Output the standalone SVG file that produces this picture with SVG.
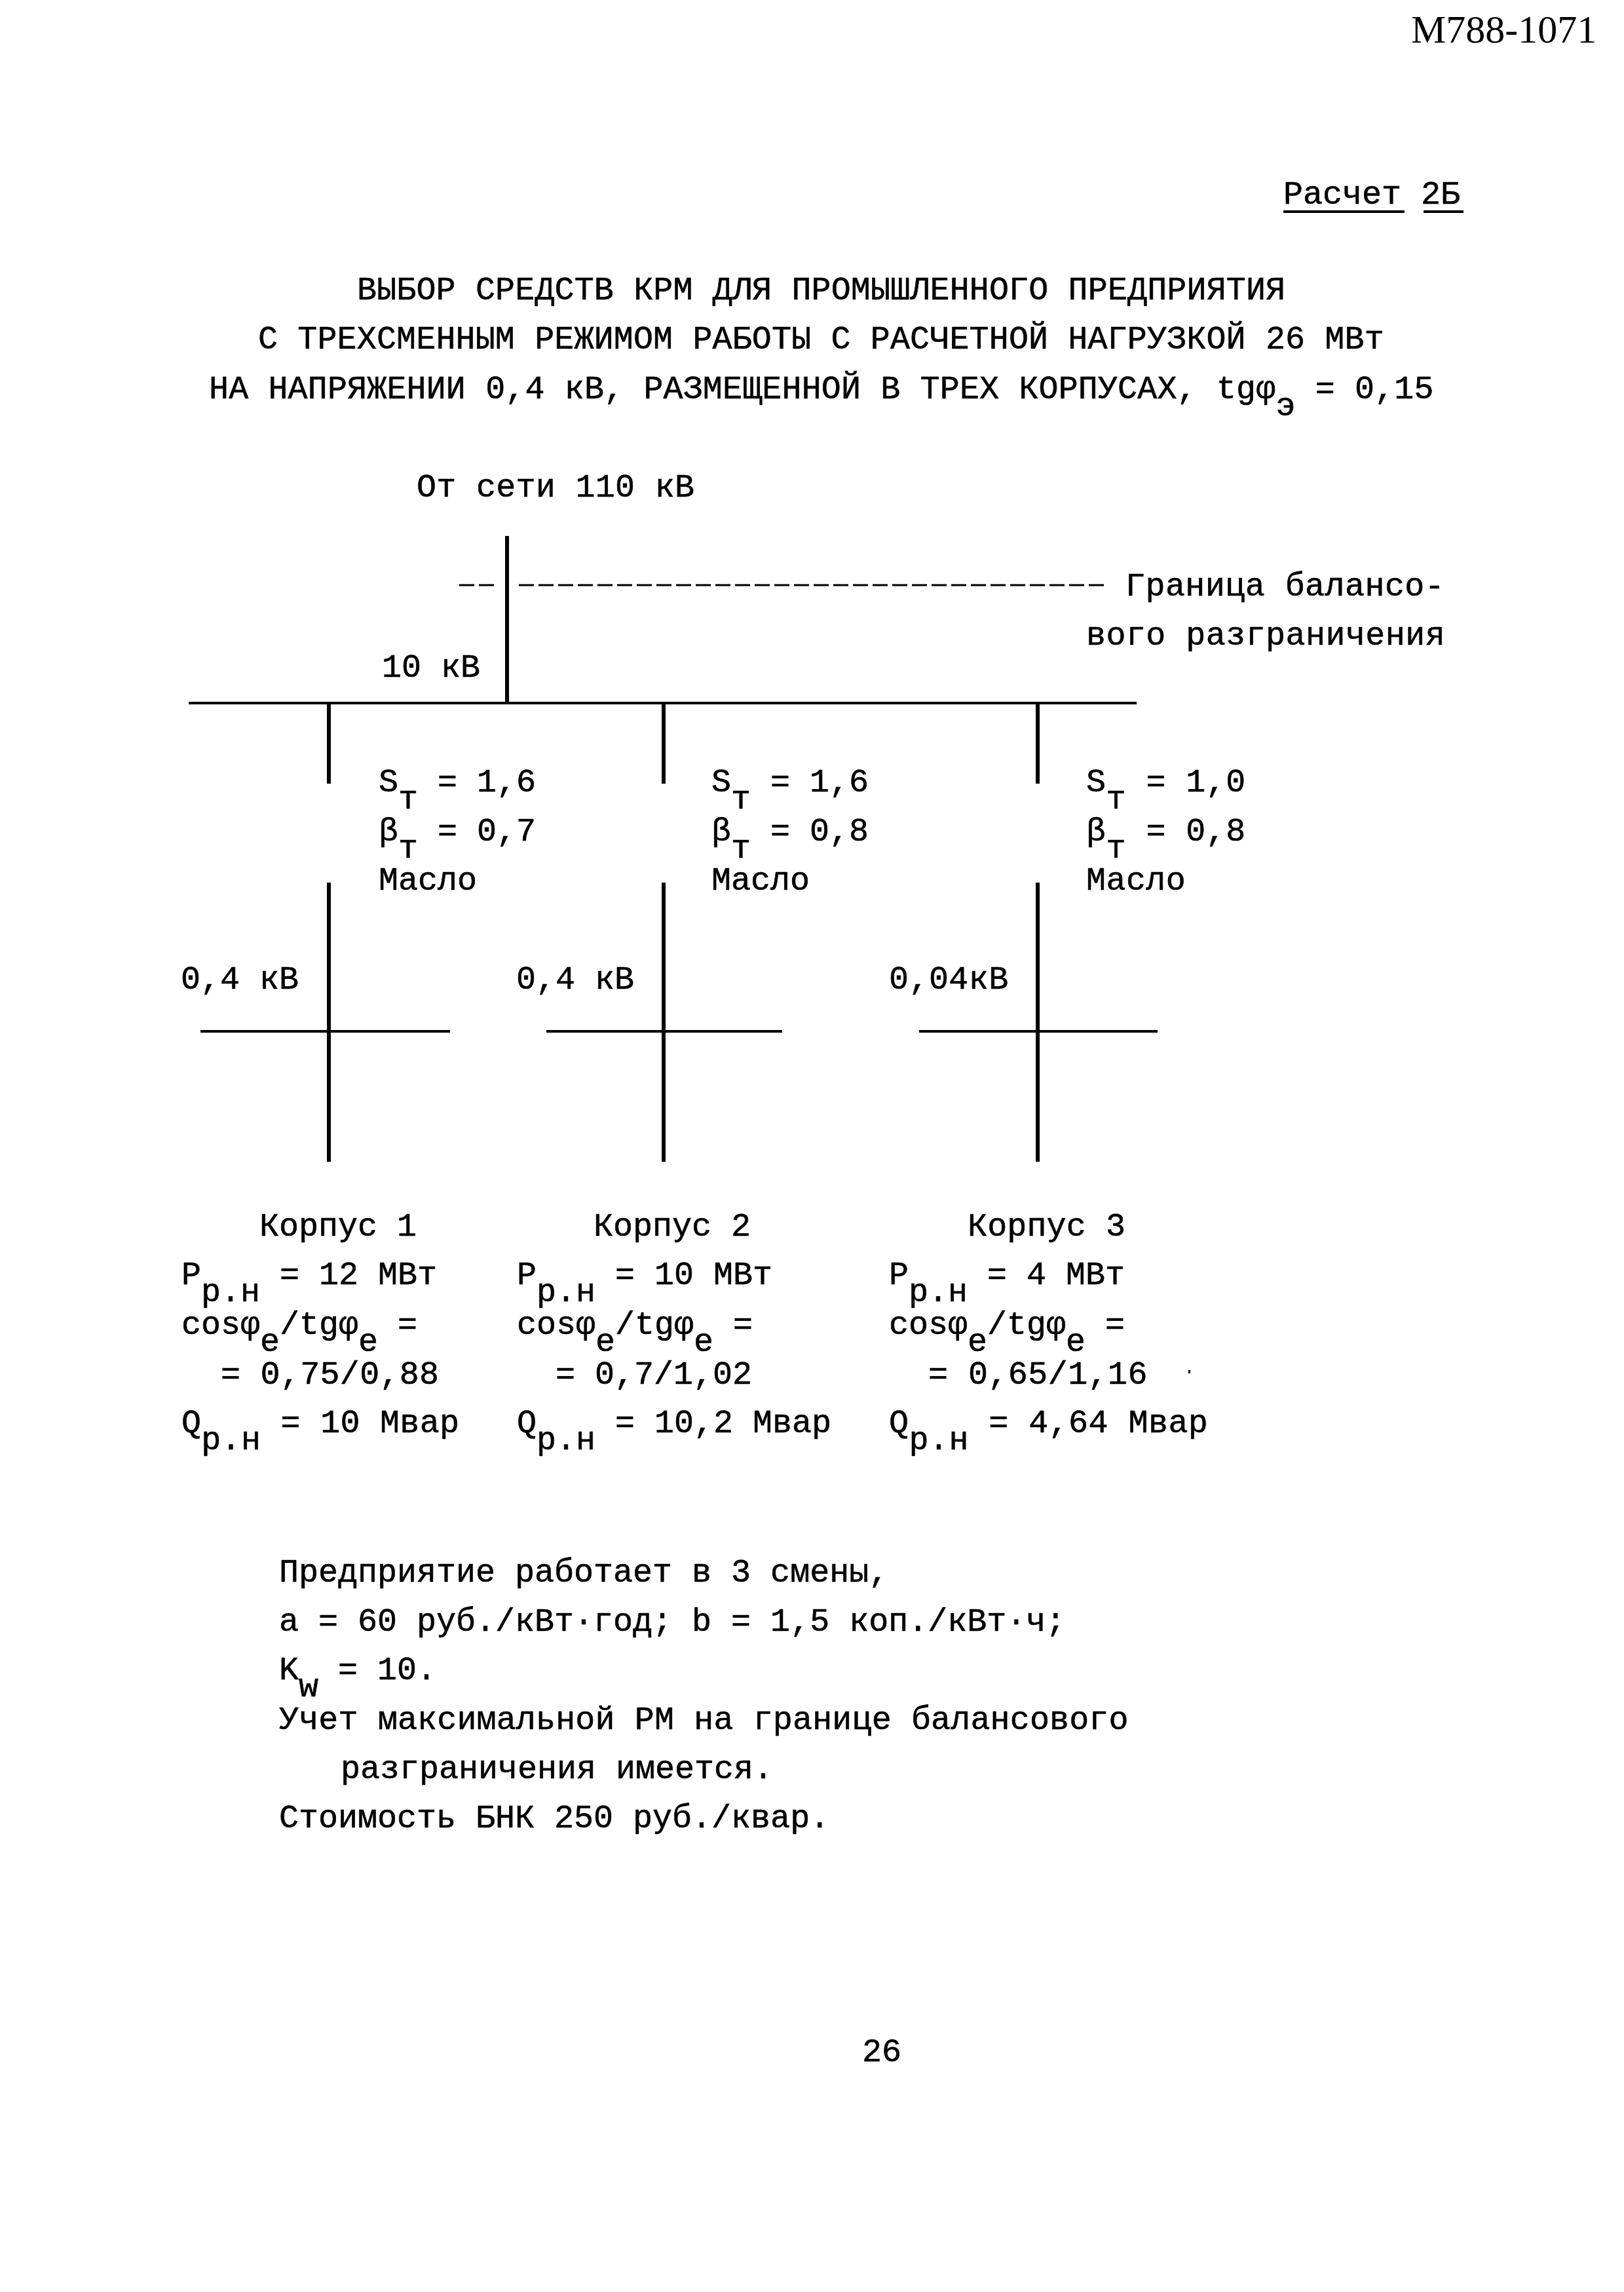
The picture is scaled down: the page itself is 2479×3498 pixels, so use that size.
<svg xmlns="http://www.w3.org/2000/svg" width="2479" height="3498" viewBox="0 0 2479 3498">
<style>
text{font-family:"Liberation Mono","DejaVu Sans Mono",monospace;font-size:50px;fill:#000;stroke:#000;stroke-width:.6;white-space:pre}
.hd{font-family:"Liberation Serif","Times New Roman",serif;font-size:60px;stroke-width:0}
.w1{letter-spacing:.15px}
.w2{letter-spacing:.3px}
.w3{letter-spacing:.45px}
.bus{stroke:#000;stroke-width:4;fill:none}
.thick{stroke:#000;stroke-width:6;fill:none}
.dash{stroke:#000;stroke-width:3;fill:none;stroke-dasharray:23 7}
.ul{stroke:#000;stroke-width:4;fill:none}
</style>
<rect width="2479" height="3498" fill="#fff"/>
<g id="header">
<text class="hd" x="2154" y="65">М788-1071</text>
<text x="1959" y="311">Расчет 2Б</text>
<path class="ul" d="M1959 323H2144M2173 323H2234"/>
</g>
<g id="title">
<text class="w1" x="545" y="457">ВЫБОР СРЕДСТВ КРМ ДЛЯ ПРОМЫШЛЕННОГО ПРЕДПРИЯТИЯ</text>
<text class="w1" x="394" y="532">С ТРЕХСМЕННЫМ РЕЖИМОМ РАБОТЫ С РАСЧЕТНОЙ НАГРУЗКОЙ 26 МВт</text>
<text class="w1" x="319" y="608">НА НАПРЯЖЕНИИ 0,4 кВ, РАЗМЕЩЕННОЙ В ТРЕХ КОРПУСАХ, tgφ<tspan dy="26">э</tspan><tspan dy="-26"> = 0,15</tspan></text>
</g>
<g id="connectors">
<path class="thick" d="M774 818V1073"/>
<path class="bus" d="M288 1073H1735"/>
<path class="dash" d="M701 893H760M792 893H1689"/>
<path class="thick" d="M502 1073V1196M1013 1073V1196M1584 1073V1196"/>
<path class="thick" d="M502 1347V1773M1013 1347V1773M1584 1347V1773"/>
<path class="bus" d="M306 1574H687M834 1574H1194M1403 1574H1767"/>
</g>
<g id="node-source"><text class="w2" x="636" y="758">От сети 110 кВ</text></g>
<g id="node-boundary">
<text class="w3" x="1718" y="909">Граница балансо-</text>
<text class="w3" x="1658" y="984">вого разграничения</text>
</g>
<g id="node-bus10"><text x="583" y="1033">10 кВ</text></g>
<g id="node-t1">
<text x="578" y="1208">S<tspan dy="26">т</tspan><tspan dy="-26"> = 1,6</tspan></text>
<text x="578" y="1283">β<tspan dy="26">т</tspan><tspan dy="-26"> = 0,7</tspan></text>
<text x="578" y="1358">Масло</text>
<text x="276" y="1509">0,4 кВ</text>
</g>
<g id="node-t2">
<text x="1086" y="1208">S<tspan dy="26">т</tspan><tspan dy="-26"> = 1,6</tspan></text>
<text x="1086" y="1283">β<tspan dy="26">т</tspan><tspan dy="-26"> = 0,8</tspan></text>
<text x="1086" y="1358">Масло</text>
<text x="788" y="1509">0,4 кВ</text>
</g>
<g id="node-t3">
<text class="w3" x="1658" y="1208">S<tspan dy="26">т</tspan><tspan dy="-26"> = 1,0</tspan></text>
<text class="w3" x="1658" y="1283">β<tspan dy="26">т</tspan><tspan dy="-26"> = 0,8</tspan></text>
<text class="w3" x="1658" y="1358">Масло</text>
<text class="w3" x="1357" y="1509">0,04кВ</text>
</g>
<g id="node-k1">
<text x="396" y="1886">Корпус 1</text>
<text x="277" y="1960">P<tspan dy="26">р.н</tspan><tspan dy="-26"> = 12 МВт</tspan></text>
<text x="277" y="2036">cosφ<tspan dy="26">е</tspan><tspan dy="-26">/tgφ</tspan><tspan dy="26">е</tspan><tspan dy="-26"> =</tspan></text>
<text class="w2" x="337" y="2112">= 0,75/0,88</text>
<text class="w2" x="277" y="2186">Q<tspan dy="26">р.н</tspan><tspan dy="-26"> = 10 Мвар</tspan></text>
</g>
<g id="node-k2">
<text x="906" y="1886">Корпус 2</text>
<text x="789" y="1960">P<tspan dy="26">р.н</tspan><tspan dy="-26"> = 10 МВт</tspan></text>
<text x="789" y="2036">cosφ<tspan dy="26">е</tspan><tspan dy="-26">/tgφ</tspan><tspan dy="26">е</tspan><tspan dy="-26"> =</tspan></text>
<text x="848" y="2112">= 0,7/1,02</text>
<text x="789" y="2186">Q<tspan dy="26">р.н</tspan><tspan dy="-26"> = 10,2 Мвар</tspan></text>
</g>
<g id="node-k3">
<text class="w1" x="1477" y="1886">Корпус 3</text>
<text x="1357" y="1960">P<tspan dy="26">р.н</tspan><tspan dy="-26"> = 4 МВт</tspan></text>
<text x="1357" y="2036">cosφ<tspan dy="26">е</tspan><tspan dy="-26">/tgφ</tspan><tspan dy="26">е</tspan><tspan dy="-26"> =</tspan></text>
<text class="w3" x="1417" y="2112">= 0,65/1,16</text>
<text class="w3" x="1357" y="2186">Q<tspan dy="26">р.н</tspan><tspan dy="-26"> = 4,64 Мвар</tspan></text>
<rect x="1814" y="2091" width="3" height="5"/>
</g>
<g id="notes">
<text x="426" y="2414">Предприятие работает в 3 смены,</text>
<text x="426" y="2489">а = 60 руб./кВт·год; b = 1,5 коп./кВт·ч;</text>
<text x="426" y="2563">K<tspan dy="26">w</tspan><tspan dy="-26"> = 10.</tspan></text>
<text class="w1" x="426" y="2639">Учет максимальной РМ на границе балансового</text>
<text x="520" y="2714">разграничения имеется.</text>
<text x="426" y="2789">Стоимость БНК 250 руб./квар.</text>
</g>
<g id="page-number"><text x="1316" y="3146">26</text></g>
</svg>
